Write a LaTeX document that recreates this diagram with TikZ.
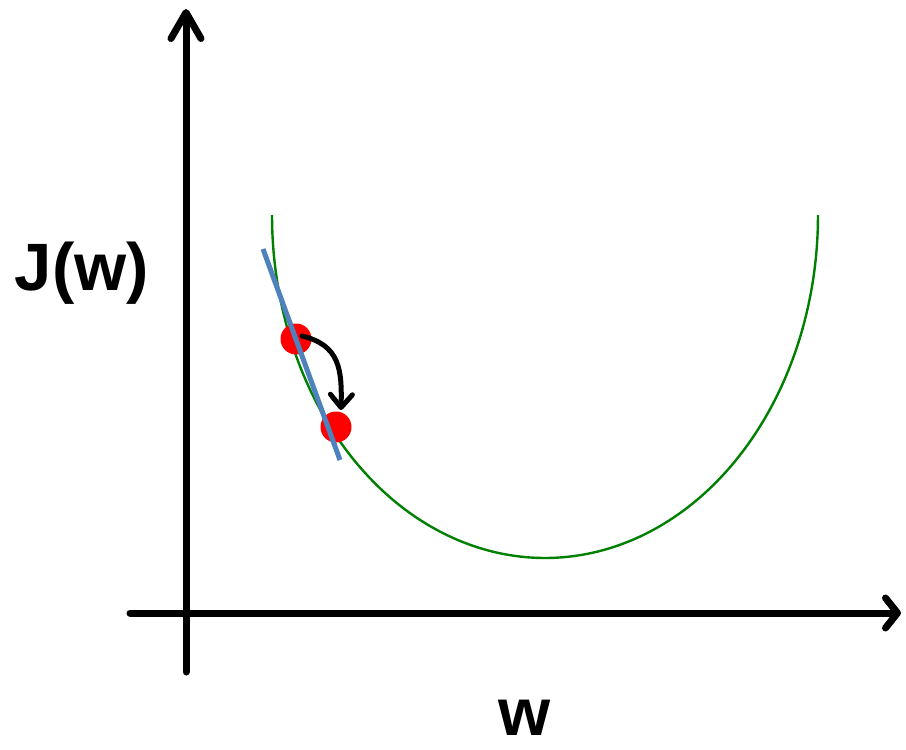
\documentclass[tikz,border=0pt]{standalone}
\usepackage{fontspec}
\setmainfont{Liberation Sans}
\usetikzlibrary{arrows.meta}
\definecolor{curvegreen}{RGB}{0,128,0}
\definecolor{tanblue}{RGB}{79,129,189}
\tikzset{
  axis/.style={line width=7pt, line cap=round},
  dot/.style={circle, fill=red, minimum size=31pt, inner sep=0pt},
  lbl/.style={font=\bfseries\fontsize{67}{70}\selectfont, inner sep=0pt, anchor=base},
  stepcurve/.style={line width=5pt, line cap=round, -{Straight Barb[length=13pt,width=22pt,round]}}
}
\begin{document}
\begin{tikzpicture}[x=1pt,y=-1pt]
\useasboundingbox (0,0) rectangle (906,750);
% axes
\coordinate (ybot) at (186,672);
\coordinate (ytop) at (186,9);
\coordinate (xleft) at (130,613);
\coordinate (xright) at (901,613);
\draw[axis, -{Straight Barb[length=26pt,width=30pt,round]}] (ybot) -- (ytop);
\draw[axis, -{Straight Barb[length=12pt,width=30pt,round]}] (xleft) -- (xright);
% cost curve
\draw[curvegreen, line width=2.4pt] plot[domain=180:0, samples=120, smooth] ({545+273*cos(\x)}, {215+343*sin(\x)});
% points
\node[dot] (p1) at (296,339) {};
\node[dot] (p2) at (336,427) {};
% tangent
\coordinate (t1) at (263,249);
\coordinate (t2) at (340,460);
\draw[tanblue, line width=5pt] (t1) -- (t2);
% step arrow
\draw[stepcurve] (p1.center) ++(6,-3) .. controls (340,345) and (342,370) .. (341,410);
% labels
\node[lbl] (J) at (82,290) {J(w)};
\node[lbl] (W) at (525,735) {w};
\end{tikzpicture}
\end{document}
